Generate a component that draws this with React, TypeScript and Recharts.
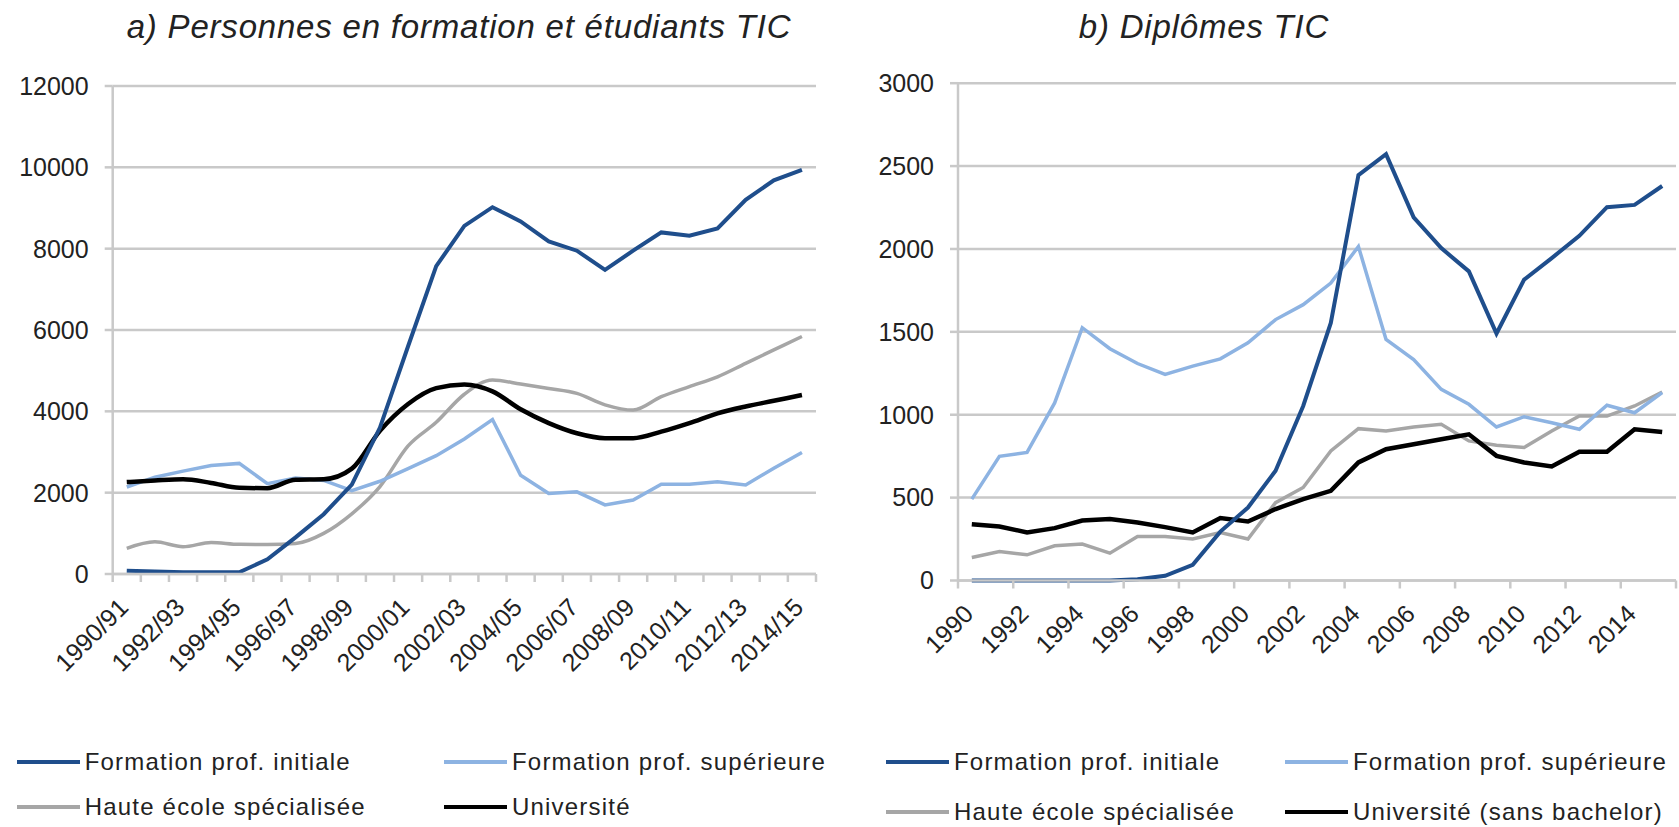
import React from "react"
import { LineChart, Line, XAxis, YAxis, CartesianGrid } from "recharts"

const yearsA = [
  "1990/91", "1991/92", "1992/93", "1993/94", "1994/95", "1995/96", "1996/97",
  "1997/98", "1998/99", "1999/00", "2000/01", "2001/02", "2002/03", "2003/04",
  "2004/05", "2005/06", "2006/07", "2007/08", "2008/09", "2009/10", "2010/11",
  "2011/12", "2012/13", "2013/14", "2014/15",
]
const initialeA = [80, 60, 40, 40, 40, 360, 900, 1470, 2200, 3600, 5600, 7570, 8560, 9020, 8670, 8180, 7950, 7480, 7950, 8400, 8320, 8500, 9200, 9680, 9940]
const superieureA = [2140, 2380, 2530, 2670, 2720, 2220, 2360, 2300, 2050, 2280, 2590, 2910, 3320, 3800, 2430, 1980, 2020, 1700, 1820, 2210, 2210, 2270, 2190, 2600, 2990]
const hesA = [630, 790, 670, 775, 730, 725, 750, 1000, 1480, 2150, 3150, 3730, 4420, 4770, 4670, 4560, 4440, 4160, 4030, 4360, 4610, 4850, 5180, 5510, 5840]
const uniA = [2260, 2300, 2330, 2240, 2120, 2110, 2320, 2330, 2590, 3520, 4180, 4570, 4660, 4490, 4050, 3710, 3460, 3340, 3340, 3500, 3710, 3950, 4120, 4260, 4400]

const yearsB = [
  "1990", "1991", "1992", "1993", "1994", "1995", "1996", "1997", "1998",
  "1999", "2000", "2001", "2002", "2003", "2004", "2005", "2006", "2007",
  "2008", "2009", "2010", "2011", "2012", "2013", "2014", "2015",
]
const initialeB = [0, 0, 0, 0, 0, 0, 8, 28, 95, 295, 440, 662, 1053, 1554, 2446, 2572, 2191, 2005, 1865, 1490, 1815, 1945, 2079, 2252, 2266, 2380]
const superieureB = [491, 749, 773, 1071, 1525, 1398, 1309, 1243, 1293, 1337, 1434, 1574, 1664, 1794, 2015, 1454, 1333, 1153, 1063, 926, 988, 952, 912, 1057, 1012, 1133]
const hesB = [139, 175, 155, 209, 220, 165, 266, 266, 250, 290, 250, 470, 561, 782, 916, 902, 926, 942, 842, 816, 802, 902, 992, 992, 1053, 1137]
const uniB = [340, 326, 290, 316, 362, 371, 350, 322, 290, 377, 356, 431, 491, 541, 712, 792, 822, 852, 882, 752, 712, 688, 776, 776, 912, 896]

const ticksA = [0, 2000, 4000, 6000, 8000, 10000, 12000]
const ticksB = [0, 500, 1000, 1500, 2000, 2500, 3000]

const DARK = "#1f4e8c"
const LIGHT = "#8db3e2"
const GRAY = "#a6a6a6"
const BLACK = "#000000"
const GRID = "#c9c9c9"
const FONT = "'Liberation Sans', Arial, sans-serif"

const dataA = yearsA.map((year, i) => ({
  year,
  initiale: initialeA[i],
  superieure: superieureA[i],
  hes: hesA[i],
  uni: uniA[i],
}))

const dataB = yearsB.map((year, i) => ({
  year,
  initiale: initialeB[i],
  superieure: superieureB[i],
  hes: hesB[i],
  uni: uniB[i],
}))

// tick marks sit between categories (Excel style), labels on every other category
function makeXTick(band: number, every: number, count: number) {
  return (props: any) => {
    const { x, y, payload } = props
    const i = payload?.index ?? props.index
    const half = band / 2
    return (
      <g>
        {i % every === 0 && (
          <line x1={x - half} x2={x - half} y1={y} y2={y + 8} stroke={GRID} strokeWidth={2.5} />
        )}
        {i === count - 1 && count % every === 0 && (
          <line x1={x + half} x2={x + half} y1={y} y2={y + 8} stroke={GRID} strokeWidth={2.5} />
        )}
        {i % 2 === 0 && (
          <text
            x={x + 3}
            y={y + 35}
            textAnchor="end"
            fontSize={25}
            fill="#222"
            fontFamily={FONT}
            transform={`rotate(-45, ${x + 3}, ${y + 35})`}
          >
            {payload.value}
          </text>
        )}
      </g>
    )
  }
}

function LegendItem({ left, top, color, label }: { left: number; top: number; color: string; label: string }) {
  return (
    <div style={{ position: "absolute", left, top: top - 16, height: 32, display: "flex", alignItems: "center" }}>
      <div style={{ width: 63, height: 4, background: color }} />
      <span style={{ marginLeft: 5, fontSize: 24, letterSpacing: 1.2, color: "#222", whiteSpace: "nowrap" }}>{label}</span>
    </div>
  )
}

const bandA = (816 - 112.7) / 25
const bandB = (1676 - 958) / 26

export default function App() {
  return (
    <div
      style={{
        position: "absolute",
        left: 0,
        top: 0,
        width: 1679,
        height: 827,
        background: "#fff",
        fontFamily: FONT,
        overflow: "hidden",
      }}
    >
      <div style={{ position: "absolute", left: 0, width: 918, top: 8, textAlign: "center", fontSize: 33, fontStyle: "italic", letterSpacing: 0.8, color: "#222" }}>
        a) Personnes en formation et étudiants TIC
      </div>
      <div style={{ position: "absolute", left: 840, width: 728, top: 8, textAlign: "center", fontSize: 33, fontStyle: "italic", letterSpacing: 0.8, color: "#222" }}>
        b) Diplômes TIC
      </div>

      <div style={{ position: "absolute", left: 0, top: 0 }}>
        <LineChart width={840} height={700} data={dataA} margin={{ top: 86, right: 24, bottom: 6, left: 12.7 }}>
          <CartesianGrid vertical={false} stroke={GRID} strokeWidth={2.5} />
          <XAxis
            dataKey="year"
            interval={0}
            height={120}
            padding={{ left: bandA / 2, right: bandA / 2 }}
            tickLine={false}
            tickSize={0}
            tickMargin={0}
            axisLine={{ stroke: GRID, strokeWidth: 2.5 }}
            tick={makeXTick(bandA, 1, yearsA.length)}
          />
          <YAxis
            width={100}
            domain={[0, 12000]}
            ticks={ticksA}
            tickSize={8}
            tickMargin={16}
            tickLine={{ stroke: GRID, strokeWidth: 2.5 }}
            axisLine={{ stroke: GRID, strokeWidth: 2.5 }}
            tick={{ fontSize: 25, fill: "#222", fontFamily: FONT }}
          />
          <Line type="monotone" dataKey="hes" stroke={GRAY} strokeWidth={3.5} dot={false} isAnimationActive={false} />
          <Line type="linear" dataKey="superieure" stroke={LIGHT} strokeWidth={3.5} dot={false} isAnimationActive={false} />
          <Line type="monotone" dataKey="uni" stroke={BLACK} strokeWidth={4.5} dot={false} isAnimationActive={false} />
          <Line type="linear" dataKey="initiale" stroke={DARK} strokeWidth={4} dot={false} isAnimationActive={false} />
        </LineChart>
      </div>

      <div style={{ position: "absolute", left: 840, top: 0 }}>
        <LineChart width={839} height={700} data={dataB} margin={{ top: 83.2, right: 3, bottom: 4.5, left: 18 }}>
          <CartesianGrid vertical={false} stroke={GRID} strokeWidth={2.5} />
          <XAxis
            dataKey="year"
            interval={0}
            height={115}
            padding={{ left: bandB / 2, right: bandB / 2 }}
            tickLine={false}
            tickSize={0}
            tickMargin={0}
            axisLine={{ stroke: GRID, strokeWidth: 2.5 }}
            tick={makeXTick(bandB, 2, yearsB.length)}
          />
          <YAxis
            width={100}
            domain={[0, 3000]}
            ticks={ticksB}
            tickSize={8}
            tickMargin={16}
            tickLine={{ stroke: GRID, strokeWidth: 2.5 }}
            axisLine={{ stroke: GRID, strokeWidth: 2.5 }}
            tick={{ fontSize: 25, fill: "#222", fontFamily: FONT }}
          />
          <Line type="linear" dataKey="hes" stroke={GRAY} strokeWidth={3.5} dot={false} isAnimationActive={false} />
          <Line type="linear" dataKey="superieure" stroke={LIGHT} strokeWidth={3.5} dot={false} isAnimationActive={false} />
          <Line type="linear" dataKey="uni" stroke={BLACK} strokeWidth={4.5} dot={false} isAnimationActive={false} />
          <Line type="linear" dataKey="initiale" stroke={DARK} strokeWidth={4} dot={false} isAnimationActive={false} />
        </LineChart>
      </div>

      <LegendItem left={16.7} top={762} color={DARK} label="Formation prof. initiale" />
      <LegendItem left={444} top={762} color={LIGHT} label="Formation prof. supérieure" />
      <LegendItem left={16.7} top={807} color={GRAY} label="Haute école spécialisée" />
      <LegendItem left={444} top={807} color={BLACK} label="Université" />

      <LegendItem left={886} top={762} color={DARK} label="Formation prof. initiale" />
      <LegendItem left={1285} top={762} color={LIGHT} label="Formation prof. supérieure" />
      <LegendItem left={886} top={812} color={GRAY} label="Haute école spécialisée" />
      <LegendItem left={1285} top={812} color={BLACK} label="Université (sans bachelor)" />
    </div>
  )
}
